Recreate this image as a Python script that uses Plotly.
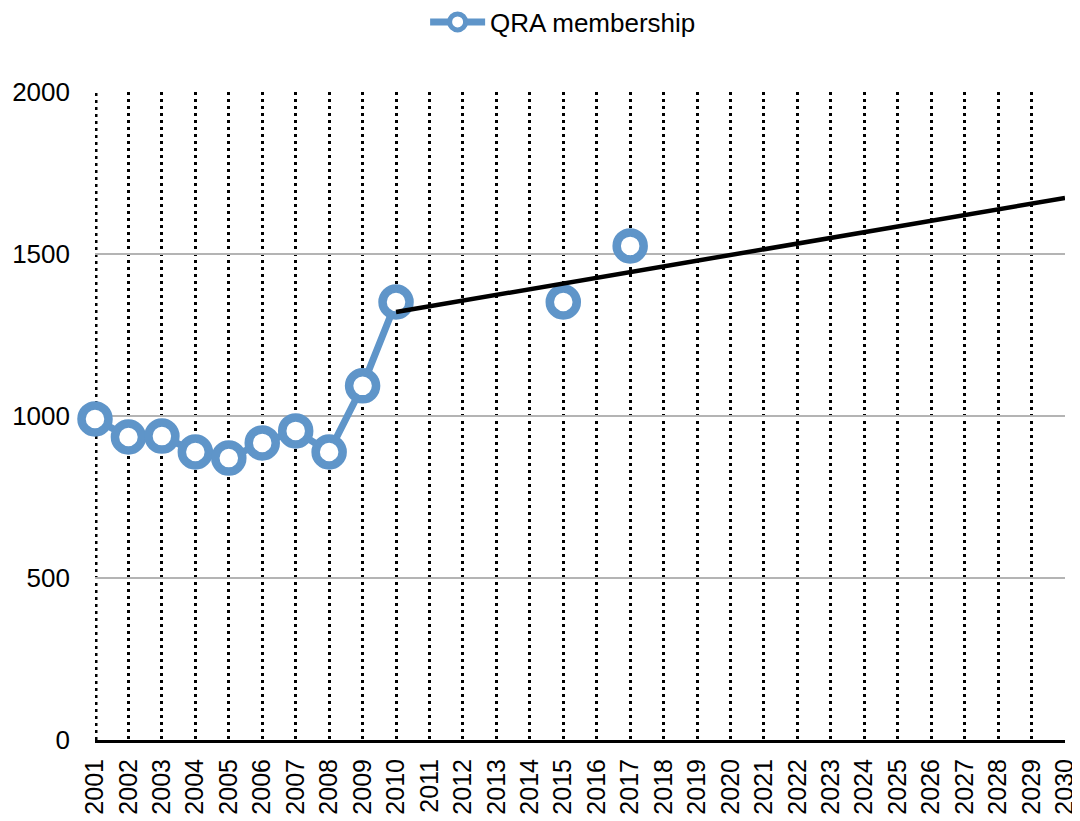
import plotly.graph_objects as go

years = list(range(2001, 2031))
member_years = [2001, 2002, 2003, 2004, 2005, 2006, 2007, 2008, 2009, 2010,
                2011, 2012, 2013, 2014, 2015, 2016, 2017]
membership = [991, 935, 938, 889, 870, 917, 954, 889, 1093, 1352,
              None, None, None, None, 1352, None, 1525]
trend_years = [2010, 2030]
trend_values = [1321, 1673]
y_ticks = [0, 500, 1000, 1500, 2000]

BLUE = "#5f95c9"
FONT = "Liberation Sans, Arial, sans-serif"

fig = go.Figure()
fig.add_trace(go.Scatter(
    x=member_years, y=membership, mode="lines+markers", name="QRA membership",
    line=dict(color=BLUE, width=7),
    marker=dict(symbol="circle", size=27, color="white", line=dict(color=BLUE, width=8.5)),
    connectgaps=False, cliponaxis=False,
))
fig.add_trace(go.Scatter(
    x=trend_years, y=trend_values, mode="lines", showlegend=False,
    line=dict(color="black", width=4.5), cliponaxis=False,
))

# dotted gridline at the first category (plotly omits the edge gridline)
fig.add_vline(x=years[0], line=dict(color="black", width=5, dash="3px,4px"), layer="below")

# page body has an 8px default margin, so margins are shifted accordingly
fig.update_layout(
    width=1080, height=821,
    paper_bgcolor="white", plot_bgcolor="white",
    margin=dict(l=87, r=23, t=84, b=89, autoexpand=False),
    font=dict(family=FONT, size=26, color="black"),
    showlegend=True,
    legend=dict(orientation="h", xref="container", x=0.514, xanchor="center", yref="container",
                y=1 - 14 / 821, yanchor="middle", font=dict(size=26),
                itemwidth=55),
)
fig.update_xaxes(
    range=[2001, 2030], tickmode="array", tickvals=years, ticktext=[str(y) for y in years],
    tickangle=-90, showgrid=True, gridcolor="black", gridwidth=2.5, griddash="3px,4px",
    showline=True, linecolor="black", linewidth=3, zeroline=False,
    tickfont=dict(size=25), ticks="", ticklabelstandoff=6, automargin=False,
)
fig.update_yaxes(
    range=[0, 2000], tickmode="array", tickvals=y_ticks,
    showgrid=True, gridcolor="#b4b4b4", gridwidth=2,
    showline=False, zeroline=False, ticks="", tickfont=dict(size=26),
    ticklabelstandoff=24, automargin=False,
)

fig.write_html("out.html")
